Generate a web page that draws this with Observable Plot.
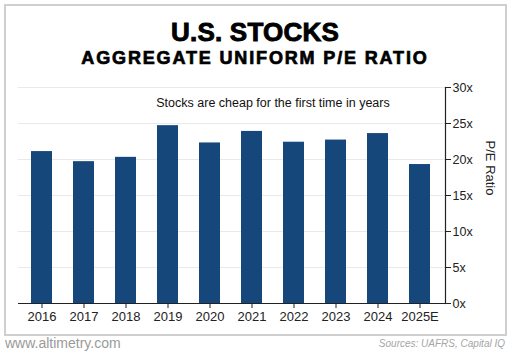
<!DOCTYPE html>
<html>
<head>
<meta charset="utf-8">
<script src="https://cdn.jsdelivr.net/npm/d3@7"></script>
<script src="https://cdn.jsdelivr.net/npm/@observablehq/plot@0.6"></script>
<style>
  html, body { margin: 0; padding: 0; background: #fff; }
  #wrap { position: relative; width: 510px; height: 352px; overflow: hidden; font-family: "Liberation Sans", Arial, sans-serif; }
  #frame { position: absolute; left: 4px; top: 4px; width: 499px; height: 328px; border: 2px solid #cfcfcf; }
  .t { position: absolute; left: 0; width: 510px; text-align: center; color: #000; font-weight: 900; white-space: nowrap; }
  #title { top: 17px; font-size: 26px; -webkit-text-stroke: 0.9px #000; letter-spacing: 0.2px; }
  #subtitle { top: 48px; font-size: 18px; -webkit-text-stroke: 0.7px #000; letter-spacing: 1.85px; }
  #note { position: absolute; top: 96px; left: 0; width: 546px; text-align: center; font-size: 12.5px; color: #111; white-space: nowrap; }
  #chart { position: absolute; left: 0; top: 80px; }
  #site { position: absolute; left: 5px; top: 335px; font-size: 14px; color: #9a9a9a; }
  #src { position: absolute; right: 5px; top: 338px; font-size: 10px; color: #a5a5a5; font-style: italic; }
</style>
</head>
<body>
<div id="wrap">
  <div id="frame"></div>
  <div class="t" id="title">U.S. STOCKS</div>
  <div class="t" id="subtitle">AGGREGATE UNIFORM P/E RATIO</div>
  <div id="chart"></div>
  <div id="note">Stocks are cheap for the first time in years</div>
  <div id="site">www.altimetry.com</div>
  <div id="src">Sources: UAFRS, Capital IQ</div>
</div>
<script>
const years = ["2016","2017","2018","2019","2020","2021","2022","2023","2024","2025E"];
const peRatios = [21.1, 19.7, 20.3, 24.7, 22.3, 23.9, 22.4, 22.7, 23.6, 19.3];
const yTicks = [0, 5, 10, 15, 20, 25, 30];
const yLabel = "P/E Ratio";

const data = years.map((y, i) => ({year: y, pe: peRatios[i]}));

const chart = Plot.plot({
  width: 510,
  height: 250,
  marginTop: 7,
  marginBottom: 27,
  marginLeft: 18,
  marginRight: 65,
  style: {background: "transparent", fontFamily: "Liberation Sans, Arial, sans-serif", fontSize: "13px", color: "#222"},
  x: {domain: years, paddingInner: 0.5, paddingOuter: 0.25, insetLeft: 1, insetRight: 4, label: null},
  y: {domain: [0, 30], label: null},
  marks: [
    Plot.gridY(yTicks, {stroke: "#e9e9e9", strokeOpacity: 1}),
    Plot.barY(data, {x: "year", y: "pe", fill: "#15477a"}),
    Plot.ruleY([0], {stroke: "#222", strokeWidth: 1.2}),
    Plot.frame({anchor: "right", stroke: "#222", strokeWidth: 1.2}),
    Plot.axisX({tickSize: 5, tickPadding: 3, stroke: "#222", fill: "#222", fontSize: 13, label: null}),
    Plot.axisY(yTicks, {anchor: "right", tickSize: 5, tickPadding: 2, tickFormat: d => d + "x", fill: "#222", stroke: "#222", fontSize: 12.5, label: null}),
    Plot.text([yLabel], {frameAnchor: "right", dx: 45, rotate: 90, fontSize: 13, fill: "#222"})
  ]
});
document.getElementById("chart").appendChild(chart);
</script>
</body>
</html>
